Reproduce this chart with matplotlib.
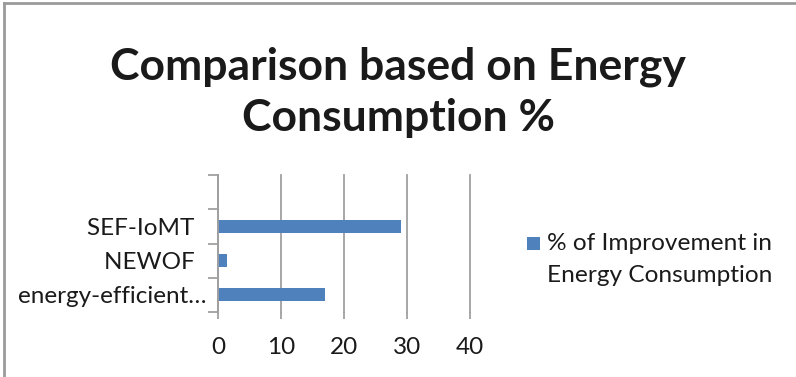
import matplotlib
matplotlib.use("Agg")
import matplotlib.pyplot as plt
from matplotlib.patches import Rectangle
from matplotlib.lines import Line2D

plt.rcParams['font.family'] = ['Lato', 'DejaVu Sans']

categories = ["energy-efficient\u2026", "NEWOF  ", "SEF-IoMT  "]
values = [17, 1.4, 29]
x_ticks = [0, 10, 20, 30, 40]
series_name = "% of Improvement in\nEnergy Consumption"
title = "Comparison based on Energy\nConsumption %"

bar_color = "#4f81bd"
grid_color = "#a0a0a0"
text_color = "#1a1a1a"

fig = plt.figure(figsize=(7.96, 3.77), dpi=100)
ax = fig.add_axes([0.2739, 0.1724, 0.3166, 0.3634])

ax.barh(range(len(categories)), values, height=0.38, color=bar_color, zorder=3)
ax.set_ylim(-0.5, len(categories) + 0.5)
ax.set_xlim(x_ticks[0], x_ticks[-1])
ax.set_xticks(x_ticks)
ax.set_xticklabels([str(t) for t in x_ticks])
ax.set_yticks([i - 0.5 for i in range(len(categories) + 2)])
ax.set_yticklabels([])
ax.set_yticks(range(len(categories)), minor=True)
ax.set_yticklabels(categories, minor=True)

ax.grid(axis='x', color=grid_color, linewidth=1.3, zorder=0)
for gl in ax.get_xgridlines():
    gl.set_clip_on(False)
for side in ("top", "right", "bottom"):
    ax.spines[side].set_visible(False)
ax.spines["left"].set_color(grid_color)
ax.spines["left"].set_linewidth(1.3)
ax.spines["left"].set_zorder(4)

ax.tick_params(axis='y', which='major', length=7, width=1.3, color=grid_color, direction='out')
ax.tick_params(axis='y', which='minor', length=0, pad=8, labelsize=17.5, labelcolor=text_color)
ax.tick_params(axis='x', length=5, width=1.3, color=grid_color, pad=13, labelsize=17.5, labelcolor=text_color)

fig.text(0.5, 0.755, title, ha='center', va='center', fontsize=32, fontweight='bold',
         color=text_color, linespacing=1.32)

# legend: swatch aligned with the first line of the series name
fig.add_artist(Rectangle((527 / 796, 1 - 250 / 377), 13 / 796, 13 / 377,
                         transform=fig.transFigure, facecolor=bar_color, edgecolor='none'))
fig.text(547 / 796, 1 - 233 / 377, series_name, ha='left', va='top', fontsize=17.6,
         color=text_color, linespacing=1.65)

# chart frame on the left and top edges
fig.add_artist(Line2D([0.0045, 0.0045], [0, 0.991], transform=fig.transFigure,
                      color="#9a9a9a", linewidth=2))
fig.add_artist(Line2D([0.0045, 1], [0.991, 0.991], transform=fig.transFigure,
                      color="#9a9a9a", linewidth=2))

fig.savefig("out.png", dpi=100)
